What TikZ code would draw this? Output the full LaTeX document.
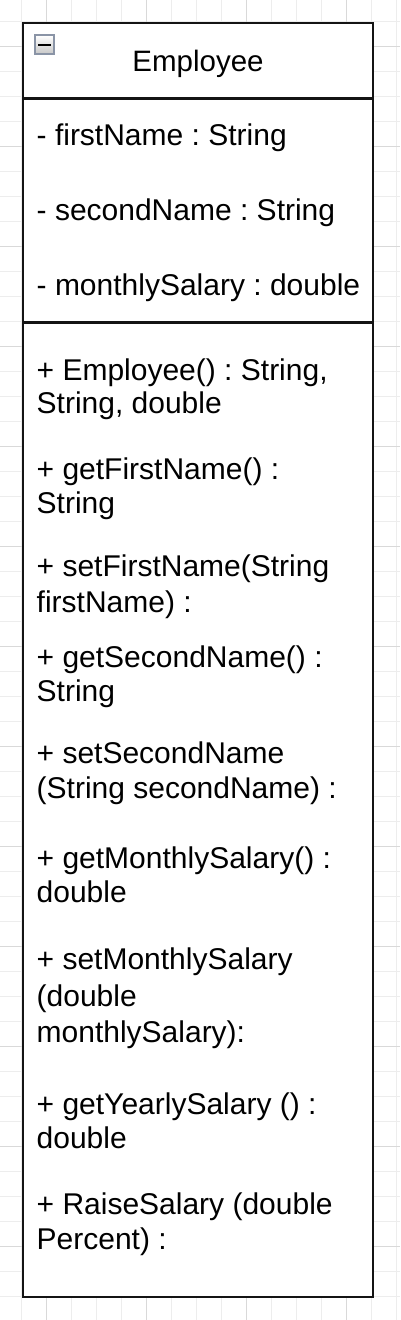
\documentclass[tikz,border=0pt]{standalone}
\usepackage{fontspec}
\setmainfont{Liberation Sans}
\definecolor{iconborder}{RGB}{138,148,166}
\begin{document}
\frenchspacing
\begin{tikzpicture}[x=1pt,y=-1pt,
  minorgrid/.style={draw=black!7,line width=1pt},
  majorgrid/.style={draw=black!15,line width=1pt},
  classbox/.style={draw=black!92,line width=2.2pt,fill=white,minimum width=350pt,minimum height=1274pt,inner sep=0pt},
  divider/.style={draw=black!92,line width=2.2pt},
  member/.style={anchor=base west,inner sep=0pt,font=\fontsize{30}{34}\selectfont},
  titletext/.style={anchor=base,inner sep=0pt,font=\fontsize{29.5}{34}\selectfont}]
\useasboundingbox (0,0) rectangle (400,1320);
\fill[white] (0,0) rectangle (400,1320);
% background grid
\foreach \k in {0,...,15} { \draw[minorgrid] (21+25*\k,0) -- (21+25*\k,1320); }
\foreach \k in {0,...,52} { \draw[minorgrid] (0,21+25*\k) -- (400,21+25*\k); }
\foreach \k in {0,...,3} { \draw[majorgrid] (46+100*\k,0) -- (46+100*\k,1320); }
\foreach \k in {0,...,12} { \draw[majorgrid] (0,46+100*\k) -- (400,46+100*\k); }
% class box
\node[classbox] (cls) at (198,660) {};
\coordinate (d1l) at (23,98.5); \coordinate (d1r) at (373,98.5);
\coordinate (d2l) at (23,322.5); \coordinate (d2r) at (373,322.5);
\draw[divider] (d1l) -- (d1r);
\draw[divider] (d2l) -- (d2r);
% collapse icon
\node[draw=iconborder,line width=2.4pt,top color=white,bottom color=black!22,minimum width=19pt,minimum height=19pt,inner sep=0pt] (icon) at (44.7,44.7) {};
\coordinate (mL) at (38.3,44.7); \coordinate (mR) at (51.3,44.7);
\draw[line width=2.4pt,black] (mL) -- (mR);
% title
\node[titletext] (title) at (198,71.7) {Employee};
% attributes
\node[member] (a1) at (36.5,145) {- firstName : String};
\node[member] (a2) at (36.5,220) {- secondName : String};
\node[member] (a3) at (36.5,295) {- monthlySalary : double};
% methods
\node[member] (m1a) at (36.5,380) {+ Employee() : String,};
\node[member] (m1b) at (36.5,413) {String, double};
\node[member] (m2a) at (36.5,479) {+ getFirstName() :};
\node[member] (m2b) at (36.5,513) {String};
\node[member] (m3a) at (36.5,576) {+ setFirstName(String};
\node[member] (m3b) at (36.5,612) {firstName) :};
\node[member] (m4a) at (36.5,667) {+ getSecondName() :};
\node[member] (m4b) at (36.5,701) {String};
\node[member] (m5a) at (36.5,763) {+ setSecondName};
\node[member] (m5b) at (36.5,798) {(String secondName) :};
\node[member] (m6a) at (36.5,868) {+ getMonthlySalary() :};
\node[member] (m6b) at (36.5,902) {double};
\node[member] (m7a) at (36.5,969) {+ setMonthlySalary};
\node[member] (m7b) at (36.5,1006) {(double};
\node[member] (m7c) at (36.5,1042) {monthlySalary):};
\node[member] (m8a) at (36.5,1114) {+ getYearlySalary () :};
\node[member] (m8b) at (36.5,1148) {double};
\node[member] (m9a) at (36.5,1214) {+ RaiseSalary (double};
\node[member] (m9b) at (36.5,1249) {Percent) :};
\end{tikzpicture}
\end{document}
